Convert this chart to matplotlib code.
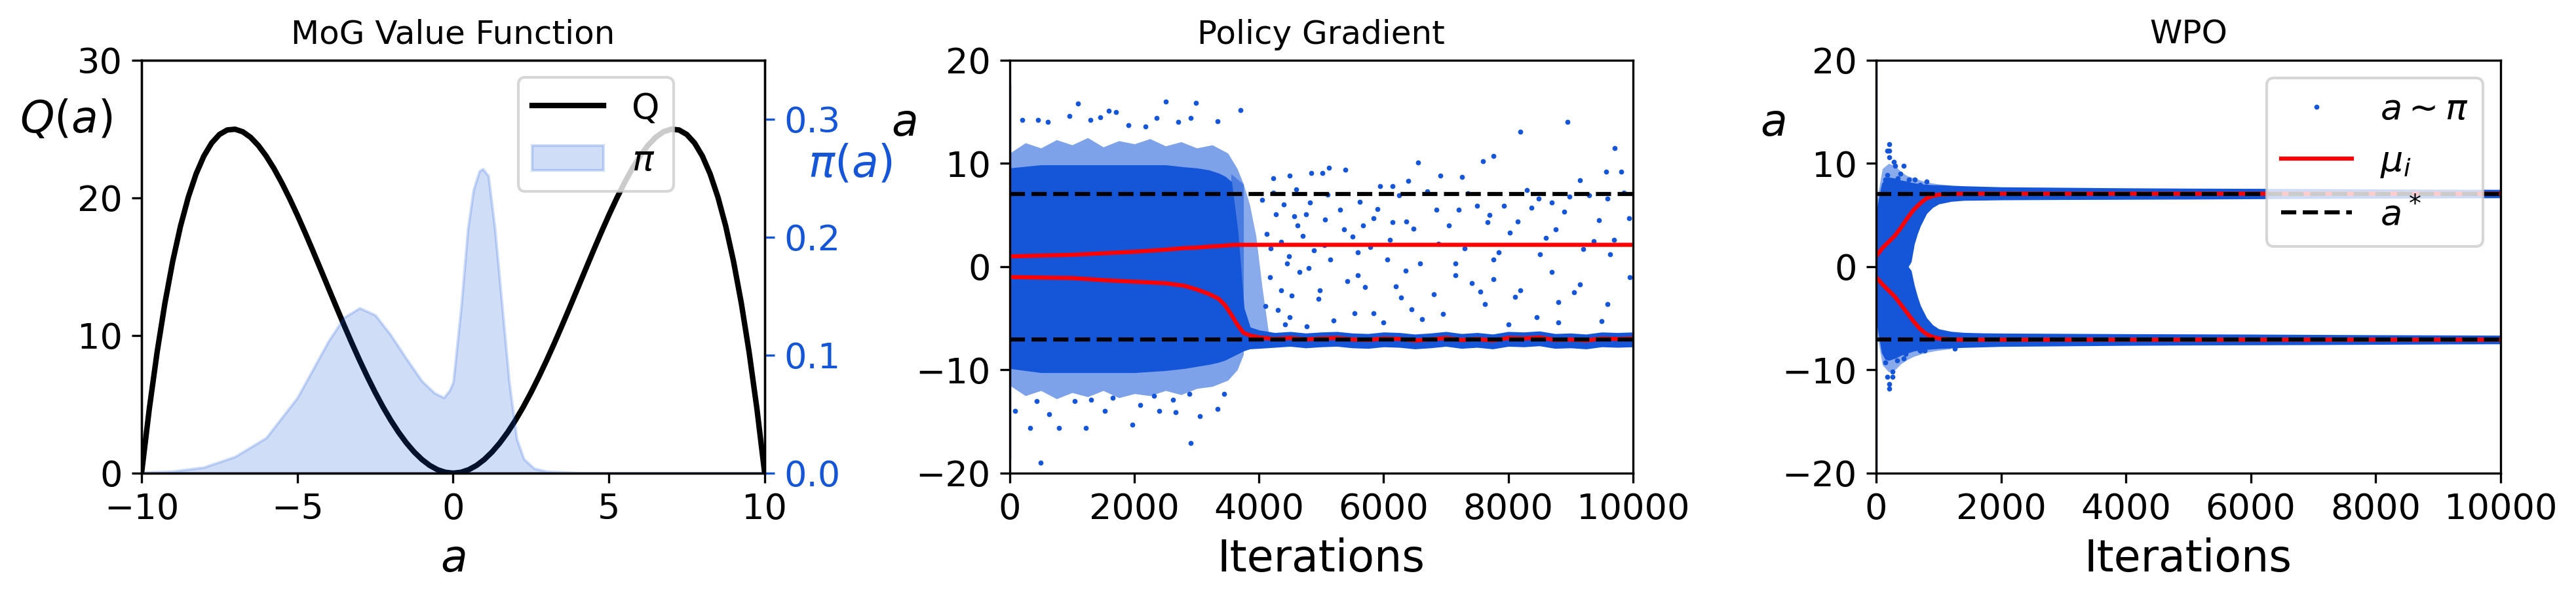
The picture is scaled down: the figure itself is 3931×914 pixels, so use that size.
import numpy as np
import matplotlib.pyplot as plt

BLUE = '#1556d9'

# ---- left panel: MoG value function and the policy density ----
q_a = [-10.0, -9.75, -9.5, -9.25, -9.0, -8.75, -8.5, -8.25, -8.0, -7.75, -7.5, -7.25, -7.0, -6.75,
       -6.5, -6.25, -6.0, -5.75, -5.5, -5.25, -5.0, -4.75, -4.5, -4.25, -4.0, -3.75, -3.5, -3.25,
       -3.0, -2.75, -2.5, -2.25, -2.0, -1.75, -1.5, -1.25, -1.0, -0.75, -0.5, -0.25, 0.0,
       0.25, 0.5, 0.75, 1.0, 1.25, 1.5, 1.75, 2.0, 2.25, 2.5, 2.75, 3.0, 3.25, 3.5, 3.75, 4.0,
       4.25, 4.5, 4.75, 5.0, 5.25, 5.5, 5.75, 6.0, 6.25, 6.5, 6.75, 7.0, 7.25, 7.5, 7.75, 8.0,
       8.25, 8.5, 8.75, 9.0, 9.25, 9.5, 9.75, 10.0]
q_val = [0.0, 4.694, 8.799, 12.353, 15.39, 17.944, 20.049, 21.737, 23.04, 23.987, 24.609, 24.935,
         24.99, 24.803, 24.399, 23.804, 23.04, 22.131, 21.099, 19.966, 18.75, 17.472, 16.149, 14.800,
         13.44, 12.085, 10.749, 9.447, 8.19, 6.991, 5.859, 4.806, 3.84, 2.969, 2.199, 1.538, 0.99,
         0.559, 0.249, 0.0625, 0.0,
         0.0625, 0.249, 0.559, 0.99, 1.538, 2.199, 2.969, 3.84, 4.806, 5.859, 6.991, 8.19, 9.447,
         10.749, 12.085, 13.44, 14.800, 16.149, 17.472, 18.75, 19.966, 21.099, 22.131, 23.04,
         23.804, 24.399, 24.803, 24.99, 24.935, 24.609, 23.987, 23.04, 21.737, 20.049, 17.944,
         15.39, 12.353, 8.799, 4.694, 0.0]

pi_a = [-10, -9, -8, -7, -6, -5, -4.5, -4, -3.5, -3, -2.5, -2, -1.5, -1, -0.6, -0.3, -0.12,
        0.0, 0.26, 0.47, 0.65, 0.84, 0.95, 1.13, 1.34, 1.57, 1.80, 2.04, 2.27, 2.6, 3.0, 4.0, 5.0, 10.0]
pi_val = [0.0005, 0.0016, 0.005, 0.014, 0.030, 0.064, 0.088, 0.112, 0.132, 0.140, 0.134, 0.117,
          0.097, 0.078, 0.068, 0.064, 0.070, 0.077, 0.142, 0.207, 0.240, 0.256, 0.258, 0.252,
          0.207, 0.142, 0.077, 0.029, 0.012, 0.004, 0.0015, 0.0003, 0.0, 0.0]

a_star = [7.07, -7.07]

# ---- middle panel: policy gradient ----
pg_x = [0, 500, 1000, 1500, 2000, 2500, 2800, 3000, 3200, 3350, 3450, 3550, 3650, 3750, 3850, 4000,
        4250, 4500, 4750, 5000, 5250, 5500, 5750, 6000, 6250, 6500, 6750, 7000, 7250, 7500,
        7750, 8000, 8250, 8500, 8750, 9000, 9250, 9500, 9750, 10000]
pg_mu_hi = [1.0, 1.08, 1.15, 1.3, 1.45, 1.65, 1.8, 1.85, 1.95, 2.0, 2.05, 2.1, 2.12, 2.12, 2.12, 2.12,
            2.12, 2.12, 2.12, 2.12, 2.12, 2.12, 2.12, 2.12, 2.12, 2.12, 2.12, 2.12, 2.12, 2.12,
            2.12, 2.12, 2.12, 2.12, 2.12, 2.12, 2.12, 2.12, 2.12, 2.12]
pg_mu_lo = [-1.0, -1.05, -1.1, -1.3, -1.45, -1.6, -1.85, -2.2, -2.65, -3.1, -3.7, -4.6, -5.6, -6.4,
            -6.65, -6.85, -7.0, -6.9, -7.05, -6.95, -6.9, -7.05, -7.1, -6.95, -7.0, -7.15, -7.05,
            -6.9, -7.1, -7.0, -7.15, -6.9, -6.95, -6.85, -7.1, -7.05, -7.15, -6.95, -7.0, -6.95]
pg_core_top = [9.5, 9.8, 9.8, 9.8, 9.8, 9.8, 9.6, 9.5, 9.3, 9.0, 8.7, 8.2, 3.5, -4.0, -5.9, -6.2,
               -6.45, -6.35, -6.5, -6.4, -6.35, -6.5, -6.55, -6.4, -6.45, -6.6, -6.5, -6.35, -6.55,
               -6.45, -6.6, -6.35, -6.4, -6.3, -6.55, -6.5, -6.6, -6.4, -6.45, -6.4]
pg_core_bot = [-9.8, -10.2, -10.2, -10.2, -10.2, -10.0, -9.8, -9.6, -9.4, -9.2, -9.0, -8.7, -8.4, -8.1,
               -7.9, -7.85, -7.75, -7.65, -7.8, -7.7, -7.65, -7.8, -7.85, -7.7, -7.75, -7.9, -7.8,
               -7.65, -7.85, -7.75, -7.9, -7.65, -7.7, -7.6, -7.85, -7.8, -7.9, -7.7, -7.75, -7.7]
pg_halo_x = [0, 250, 500, 750, 1000, 1250, 1500, 1750, 2000, 2250, 2500, 2750, 3000, 3250, 3500,
             3650, 3750]
pg_halo_top = [11.0, 12.0, 11.5, 12.3, 11.8, 12.5, 11.6, 12.2, 11.9, 12.4, 11.7, 12.1, 11.5, 11.8,
               11.0, 9.5, 8.0]
pg_halo_bot = [-11.5, -12.5, -12.0, -12.8, -12.2, -12.6, -12.0, -12.7, -12.3, -12.5, -12.0, -12.4,
               -11.8, -11.6, -11.0, -10.0, -8.5]
pg_trans_x = [3550, 3650, 3750, 3850, 3950, 4050, 4150]
pg_trans_top = [9.0, 8.5, 8.0, 6.0, 3.0, -2.0, -6.3]
pg_trans_bot = [8.2, 3.5, -4.0, -5.9, -6.1, -6.25, -6.35]
pg_init_span = [-18.5, 17.5]
pg_pts_x = [1090, 2502, 2990, 3705, 1587, 1700, 959, 1456, 200, 453, 1900, 2180, 2703, 3339, 2903,
            2354, 610, 1290, 8954, 8195, 9704, 7760, 7594, 6556, 6905, 7254, 9154, 9573, 9808, 5388,
            5118, 4839, 5014, 4229, 4490, 6399, 6138, 5946, 8483, 8701, 8980, 9294, 9590, 7498, 7201,
            6844, 6364, 8370, 7934, 9939, 6146, 5667, 5362, 5057, 4752, 4621, 4272, 5841, 7672, 8021,
            8762, 9372, 9634, 8509, 7760, 7149, 6583, 6059, 5580, 5144, 4795, 4446, 4185, 7411, 6800,
            6190, 5580, 4970, 4359, 4098, 5841, 6277, 8108, 8806, 9154, 9590, 6452, 7760, 7149, 5536,
            4490, 8457, 8806, 7629, 8195,
            4050, 4120, 4180, 4230, 4300, 4350, 4400, 4420, 4480, 4520, 4560, 4600, 4650, 4700, 4760,
            4820, 4880, 4950, 5050, 5100, 5200, 5300, 5420, 5500, 5620, 5700, 5780, 5900, 6000, 6100,
            6250, 6350, 6480, 6620, 6700, 6880, 6950, 7050, 7300, 7350, 7550, 7700, 7850, 8000, 8150,
            8300, 8600, 8700, 8900, 9050, 9200, 9450, 9500, 9700, 9850, 9950,
            497, 2903, 785, 331, 1221, 1962, 2659, 3051, 2398, 1526, 628, 87, 3330, 2092, 1046, 2616,
            436, 3444, 1656, 1308, 2310, 2877]
pg_pts_y = [15.8, 16.0, 15.9, 15.2, 15.1, 15.0, 14.6, 14.5, 14.2, 14.2, 13.7, 13.6, 14.0, 14.1, 14.4,
            14.4, 14.0, 14.2, 14.0, 13.1, 11.5, 10.7, 10.2, 10.1, 8.8, 8.7, 8.4, 9.2, 9.2, 9.4,
            9.6, 9.1, 9.1, 8.6, 8.8, 8.3, 7.8, 7.8, 6.6, 6.2, 6.8, 6.9, 6.6, 5.9, 5.5,
            5.5, 4.4, 5.7, 5.9, 4.7, 4.3, 4.0, 3.6, 4.6, 5.1, 4.0, 5.1, 4.7, 4.3, 3.3,
            3.6, 2.5, 1.2, 1.2, 0.7, 0.3, 0.3, 0.7, 1.4, 0.7, -0.1, 0.3, 1.8, -1.6, -2.7,
            -1.9, -0.8, -2.3, -2.3, -3.8, -4.5, -3.0, -2.9, -3.4, -1.7, -3.6, -4.1, -1.2, -0.8, -4.5,
            -4.9, -4.9, -5.4, -3.6, -2.3,
            6.5, 3.2, -1.0, 7.2, -4.2, 2.4, 6.0, -5.6, 1.0, -2.8, 4.9, 7.5, -0.5, 3.0, -5.8,
            6.2, 1.6, -3.1, 2.1, 7.0, -5.2, 5.5, -1.4, 2.9, 6.3, -2.0, 1.9, 5.6, -5.4, 2.6,
            6.9, -0.4, 3.7, -5.1, 7.3, 2.2, -4.6, 4.0, 1.8, 7.1, -2.4, 5.0, 1.4, -5.6, 4.4,
            7.4, 2.8, -0.5, 5.3, -2.5, 1.7, 4.5, -5.3, 2.6, 7.2, -1.0,
            -19.0, -17.1, -15.6, -15.6, -15.6, -15.3, -14.1, -14.5, -14.0, -14.0, -14.3, -14.0, -13.8,
            -13.4, -13.0, -12.9, -13.0, -12.3, -12.7, -12.9, -12.5, -12.3]

# ---- right panel: WPO ----
wpo_x = [0, 50, 100, 150, 200, 300, 400, 500, 550, 600, 650, 700, 800, 900, 1000, 1200, 1400,
         1700, 2000, 3000, 4000, 5000, 6000, 7000, 8000, 9000, 10000]
wpo_outer_hi = [4.8, 6.5, 8.0, 8.5, 8.6, 8.5, 8.3, 8.2, 8.1, 8.05, 8.0, 7.95, 7.9, 7.85, 7.85, 7.8,
                7.75, 7.7, 7.65, 7.6, 7.55, 7.52, 7.5, 7.48, 7.45, 7.42, 7.4]
wpo_inner_hi = [0, 0, 0, 0, 0, 0, 0, 0, 0.5, 2.2, 3.2, 4.0, 5.2, 5.8, 6.15, 6.4, 6.5, 6.52, 6.55,
                6.58, 6.6, 6.62, 6.65, 6.68, 6.7, 6.72, 6.75]
wpo_inner_lo = [0, 0, 0, 0, 0, 0, 0, 0, -0.4, -1.8, -2.9, -3.8, -5.0, -5.7, -6.1, -6.35, -6.45,
                -6.5, -6.52, -6.55, -6.58, -6.6, -6.62, -6.65, -6.68, -6.7, -6.72]
wpo_outer_lo = [-4.8, -6.5, -8.3, -8.9, -9.0, -8.8, -8.5, -8.3, -8.2, -8.1, -8.05, -8.0, -7.95,
                -7.9, -7.85, -7.8, -7.75, -7.7, -7.65, -7.6, -7.55, -7.52, -7.5, -7.48, -7.45, -7.42, -7.4]
# speckled fringe just outside the two branches during the first iterations
wpo_halo_x = [0, 100, 200, 300, 400, 500, 600, 700, 800, 1000, 1200]
wpo_halo_hi_in = [4.8, 8.0, 8.6, 8.5, 8.3, 8.2, 8.05, 7.95, 7.9, 7.85, 7.8]
wpo_halo_hi_out = [6.0, 9.5, 10.0, 9.8, 9.2, 8.8, 8.6, 8.4, 8.2, 8.0, 7.9]
wpo_halo_lo_in = [-4.8, -8.3, -9.0, -8.8, -8.5, -8.3, -8.1, -8.0, -7.95, -7.85, -7.8]
wpo_halo_lo_out = [-6.0, -9.5, -10.2, -10.0, -9.4, -9.0, -8.7, -8.5, -8.3, -8.1, -7.95]
wpo_mu_x = [0, 100, 200, 300, 400, 500, 600, 700, 800, 900, 1000, 1200, 1400, 10000]
wpo_mu_hi = [1.0, 1.8, 2.4, 3.0, 3.8, 4.7, 5.5, 6.1, 6.6, 6.85, 6.98, 7.05, 7.07, 7.07]
wpo_mu_lo = [-1.0, -1.7, -2.3, -2.9, -3.7, -4.5, -5.3, -6.0, -6.5, -6.8, -6.95, -7.05, -7.07, -7.07]
wpo_init_span = [-19.8, 19.8]
wpo_pts_x = [213, 178, 213, 213, 283, 300, 440, 178, 528, 616, 703, 808, 143, 346, 388,
             213, 213, 178, 259, 266, 143, 336, 440, 476, 773, 703, 1263]
wpo_pts_y = [11.87, 11.24, 11.24, 10.6, 10.18, 9.77, 9.77, 8.9, 8.44, 8.44, 7.96, 8.27, 8.44, 8.6, 9.0,
             -11.83, -11.34, -10.67, -10.67, -10.14, -9.29, -9.08, -8.87, -8.44, -8.13, -8.13, -7.92]

fig = plt.figure(figsize=(3931 / 300, 914 / 300), dpi=300)
ax1 = fig.add_axes([0.05495, 0.2101, 0.2419, 0.6893])
ax2 = fig.add_axes([0.3920, 0.2101, 0.2419, 0.6893])
ax3 = fig.add_axes([0.7283, 0.2101, 0.2424, 0.6893])

TICK = 13
LAB = 16

# left panel
ax1.plot(q_a, q_val, color='k', lw=2, label='Q')
ax1.set_xlim(-10, 10)
ax1.set_ylim(0, 30)
ax1.set_xticks([-10, -5, 0, 5, 10])
ax1.set_yticks([0, 10, 20, 30])
ax1.tick_params(labelsize=TICK)
ax1.set_title('MoG Value Function', fontsize=12)
ax1.set_xlabel(r'$a$', fontsize=LAB)
ax1.set_ylabel(r'$Q(a)$', fontsize=LAB, rotation=0, va='center')
ax1.yaxis.set_label_coords(-0.121, 0.856)

ax1t = ax1.twinx()
ax1t.fill_between(pi_a, pi_val, color=BLUE, alpha=0.2, label=r'$\pi$')
ax1t.set_ylim(0, 0.35)
ax1t.set_yticks([0.0, 0.1, 0.2, 0.3])
ax1t.tick_params(axis='y', colors=BLUE, labelsize=TICK)
ax1t.set_ylabel(r'$\pi(a)$', fontsize=LAB, color=BLUE, rotation=0, va='center')
ax1t.yaxis.set_label_coords(1.137, 0.748)
h1, l1 = ax1.get_legend_handles_labels()
h2, l2 = ax1t.get_legend_handles_labels()
ax1t.legend(h1 + h2, l1 + l2, fontsize=TICK, loc='upper right',
            bbox_to_anchor=(0.854, 0.959), borderaxespad=0)

# middle panel
ax2.fill_between(pg_halo_x, pg_halo_bot, pg_halo_top, color=BLUE, alpha=0.55, lw=0)
ax2.fill_between(pg_trans_x, pg_trans_bot, pg_trans_top, color=BLUE, alpha=0.5, lw=0)
ax2.fill_between(pg_x, pg_core_bot, pg_core_top, color=BLUE, lw=0.5)
ax2.plot([pg_x[0], pg_x[0]], pg_init_span, color=BLUE, lw=0.8)
ax2.plot(pg_pts_x, pg_pts_y, '.', color=BLUE, ms=2.5, mew=0.6)
ax2.plot(pg_x, pg_mu_hi, color='red', lw=1.5)
ax2.plot(pg_x, pg_mu_lo, color='red', lw=1.5)
for v in a_star:
    ax2.axhline(v, color='k', ls='--', lw=1.5)
ax2.set_title('Policy Gradient', fontsize=12)

# right panel
ax3.fill_between(wpo_halo_x, wpo_halo_hi_in, wpo_halo_hi_out, color=BLUE, alpha=0.5, lw=0)
ax3.fill_between(wpo_halo_x, wpo_halo_lo_out, wpo_halo_lo_in, color=BLUE, alpha=0.5, lw=0)
ax3.fill_between(wpo_x, wpo_inner_hi, wpo_outer_hi, color=BLUE, lw=0.6)
ax3.fill_between(wpo_x, wpo_outer_lo, wpo_inner_lo, color=BLUE, lw=0.6)
ax3.plot([wpo_x[0], wpo_x[0]], wpo_init_span, color=BLUE, lw=0.8)
ax3.plot(wpo_pts_x, wpo_pts_y, '.', color=BLUE, ms=2.5, mew=0.6, label=r'$a \sim \pi$')
ax3.plot(wpo_mu_x, wpo_mu_hi, color='red', lw=1.5, label=r'$\mu_i$')
ax3.plot(wpo_mu_x, wpo_mu_lo, color='red', lw=1.5)
ax3.axhline(a_star[0], color='k', ls='--', lw=1.5, label=r'$a^*$')
ax3.axhline(a_star[1], color='k', ls='--', lw=1.5)
ax3.set_title('WPO', fontsize=12)
ax3.legend(fontsize=TICK, loc='upper right')

for ax in (ax2, ax3):
    ax.set_xlim(0, 10000)
    ax.set_ylim(-20, 20)
    ax.set_xticks([0, 2000, 4000, 6000, 8000, 10000])
    ax.set_yticks([-20, -10, 0, 10, 20])
    ax.tick_params(labelsize=TICK)
    ax.set_xlabel('Iterations', fontsize=LAB)
    ax.set_ylabel(r'$a$', fontsize=LAB, rotation=0, va='center')
ax2.yaxis.set_label_coords(-0.170, 0.848)
ax3.yaxis.set_label_coords(-0.166, 0.848)

fig.savefig('out.png', dpi=300)
